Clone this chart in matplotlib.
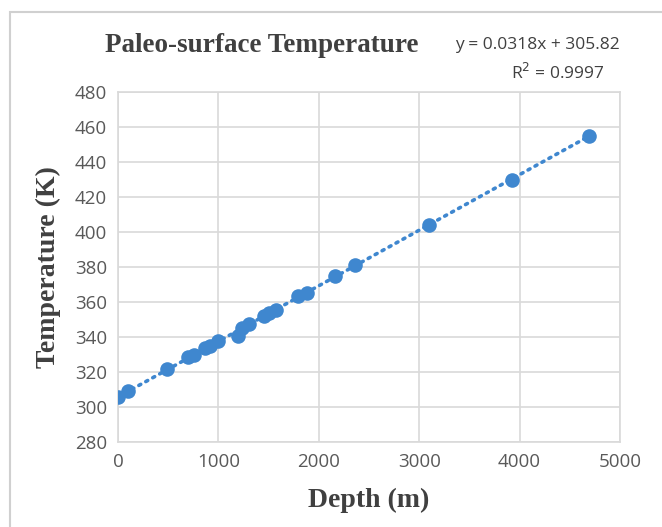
import numpy as np
import matplotlib.pyplot as plt
from matplotlib.patches import Rectangle

# depth (m) vs paleo-surface temperature (K)
depth = [0, 100, 485, 700, 758, 868, 918, 998, 1200, 1240, 1307, 1450, 1500,
         1574, 1797, 1880, 2166, 2356, 3095, 3920, 4690]
temp = [306.0, 309.0, 321.5, 328.3, 330.0, 333.5, 335.0, 337.9, 340.7, 345.0,
        347.4, 351.8, 353.6, 355.7, 363.3, 365.2, 375.1, 380.9, 403.8, 430.0, 455.0]

x_ticks = [0, 1000, 2000, 3000, 4000, 5000]
y_ticks = [280, 300, 320, 340, 360, 380, 400, 420, 440, 460, 480]

blue = '#3F87CF'
dark = '#404040'
tick_col = '#595959'
serif = ['Liberation Serif', 'DejaVu Serif']
sans = ['Open Sans', 'DejaVu Sans']

fig = plt.figure(figsize=(6.62, 5.27), dpi=100)
# outer chart-area border (runs off the right and bottom edges)
fig.patches.append(Rectangle((10 / 662, -0.1), 1.2, 1.1 - 12 / 527,
                             transform=fig.transFigure, fill=False,
                             edgecolor='#D0D0D0', linewidth=1.5))
ax = fig.add_axes([118 / 662, 1 - 442 / 527, (620 - 118) / 662, (442 - 92) / 527])

# linear trendline
coef = np.polyfit(depth, temp, 1)
xl = np.array([min(depth), max(depth)])
ax.plot(xl, np.polyval(coef, xl), linestyle=(0, (0.6, 1.6)), color=blue,
        linewidth=2.6, dash_capstyle='round', zorder=2)
ax.plot(depth, temp, 'o', color=blue, markersize=10.5, markeredgewidth=0, zorder=3)

ax.set_xlim(0, 5000)
ax.set_ylim(280, 480)
ax.set_xticks(x_ticks)
ax.set_yticks(y_ticks)
ax.grid(True, color='#D9D9D9', linewidth=1.2)
ax.set_axisbelow(True)
for s in ax.spines.values():
    s.set_color('#D9D9D9')
    s.set_linewidth(1.2)
ax.tick_params(length=0, pad=8, labelcolor=tick_col, labelsize=13.5)
for lab in ax.get_xticklabels() + ax.get_yticklabels():
    lab.set_family(sans)

ax.set_xlabel('Depth (m)', family=serif, fontsize=20, fontweight='bold',
              color=dark, labelpad=12)
ax.set_ylabel('Temperature (K)', family=serif, fontsize=20, fontweight='bold',
              color=dark, labelpad=10)

fig.text(262 / 662, 1 - 45 / 527, 'Paleo-surface Temperature', family=serif,
         fontsize=19.5, fontweight='bold', color=dark, ha='center', va='center')
fig.text(537 / 662, 1 - 45 / 527, 'y = 0.0318x + 305.82', family=sans,
         fontsize=12.5, color=dark, ha='center', va='center')
fig.text(558 / 662, 1 - 73 / 527, 'R$^2$ = 0.9997', family=sans,
         fontsize=12.5, color=dark, ha='center', va='center')

fig.savefig('out.png', dpi=100)
